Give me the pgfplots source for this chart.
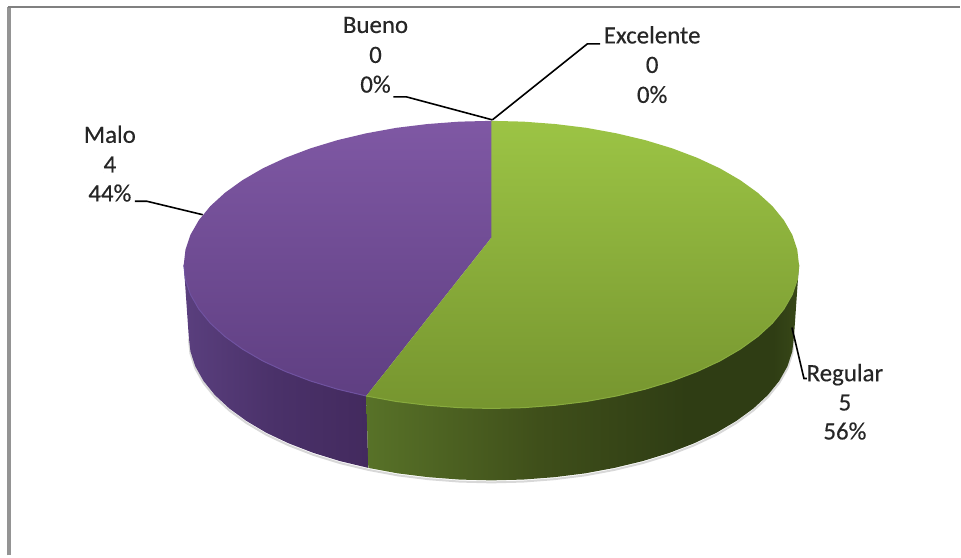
\documentclass[border=0pt]{standalone}
\usepackage{pgfplots}
\pgfplotsset{compat=1.18}
\usepackage{fontspec}
\setmainfont{Carlito}
\newfontface\labfont{Carlito}[FakeBold=0.35]
\definecolor{gwall1}{HTML}{587228}
\definecolor{gwall2}{HTML}{3F4F1A}
\definecolor{gwall3}{HTML}{2F3D14}
\definecolor{gwall4}{HTML}{384818}
\definecolor{pwall1}{HTML}{5A3F7E}
\definecolor{pwall2}{HTML}{4A3169}
\definecolor{pwall3}{HTML}{432A5E}
\definecolor{purptop}{HTML}{7F58A4}
\definecolor{purpbot}{HTML}{5F3F82}
\definecolor{greentop}{HTML}{9CC445}
\definecolor{greenbot}{HTML}{76952F}
\definecolor{purprim}{HTML}{6F52A0}
\definecolor{greenrim}{HTML}{88AB3E}
\pgfdeclarehorizontalshading{greenwall}{100bp}{color(0bp)=(gwall1); color(25bp)=(gwall1); color(45bp)=(gwall2); color(62bp)=(gwall3); color(72bp)=(gwall3); color(75bp)=(gwall4); color(100bp)=(gwall4)}
\pgfdeclarehorizontalshading{purplewall}{100bp}{color(0bp)=(pwall1); color(25bp)=(pwall1); color(50bp)=(pwall2); color(75bp)=(pwall3); color(100bp)=(pwall3)}
\newcommand\lab[1]{\labfont\fontsize{25}{25}\selectfont #1}
\tikzset{lbl/.style={text=black!85, anchor=base, inner sep=0pt}}
\begin{document}
\begin{tikzpicture}
\begin{axis}[
    width=961bp, height=556bp, scale only axis,
    xmin=0, xmax=961, ymin=0, ymax=556, y dir=reverse,
    hide axis, clip=false,
]
% keeps the page at the full size of the axis
\addplot[draw=none] coordinates {(0,0) (961,556)};

% frame
\addplot[draw=black!42, line width=4bp] coordinates {(9.5,556) (9.5,7)};
\addplot[draw=black!50, line width=2.5bp] coordinates {(8,7) (961,7)};

% soft shadow below the wall
\addplot[draw=black!30, line width=2bp, opacity=0.5] coordinates {
    (189,339) (190.7,354) (195.6,369) (203.8,383.5) (215.2,397.6) (229.6,411) (246.9,423.6) (266.8,435.4) (289.3,446) (313.9,455.5) (340.5,463.7) (368.8,470.5) (398.4,476) (429,479.8) (460.3,482.2) (492,483)
    (523.7,482.2) (555,479.8) (585.6,476) (615.2,470.5) (643.5,463.7) (670.1,455.5) (694.7,446) (717.2,435.4) (737.1,423.6) (754.4,411) (768.8,397.6) (780.2,383.5) (788.4,369) (793.3,354) (795,339)};

% purple wall
\addplot[draw=none, shade, shading=purplewall] coordinates {
    (184,265) (185.7,280) (190.7,294.9) (199.1,309.5) (210.6,323.6) (225.3,337) (242.8,349.6) (263.1,361.4) (285.9,372) (311,381.5) (338,389.7) (366.7,396.5)
    (368.8,468.5) (340.5,461.7) (313.9,453.5) (289.3,444) (266.8,433.4) (246.9,421.6) (229.6,409) (215.2,395.6) (203.8,381.5) (195.6,366.9) (190.7,352) (189,337)} -- cycle;

% green wall
\addplot[draw=none, shade, shading=greenwall] coordinates {
    (366.7,396.5) (396.8,402) (428,405.8) (459.8,408.2) (492,409) (524.2,408.2) (556,405.8) (587.2,402) (617.3,396.5) (646,389.7) (673,381.5) (698.1,372) (720.9,361.4) (741.2,349.6) (758.7,337) (773.4,323.6) (784.9,309.5) (793.3,294.9) (798.3,280) (800,265)
    (795,337) (793.3,352) (788.4,366.9) (780.2,381.5) (768.8,395.6) (754.4,409) (737.1,421.6) (717.2,433.4) (694.7,444) (670.1,453.5) (643.5,461.7) (615.2,468.5) (585.6,474) (555,477.8) (523.7,480.2) (492,481) (460.3,480.2) (429,477.8) (398.4,474) (368.8,468.5)} -- cycle;

% Malo 44%
\addplot[draw=none, shade, top color=purptop, bottom color=purpbot] coordinates {
    (492,238) (492,121) (459.8,121.8) (428,124.2) (396.8,128) (366.7,133.5) (338,140.3) (311,148.5) (285.9,158) (263.1,168.6) (242.8,180.4) (225.3,193) (210.6,206.4) (199.1,220.5) (190.7,235.1) (185.7,250) (184,265)
    (185.7,280) (190.7,294.9) (199.1,309.5) (210.6,323.6) (225.3,337) (242.8,349.6) (263.1,361.4) (285.9,372) (311,381.5) (338,389.7) (366.7,396.5)} -- cycle;

% Regular 56%
\addplot[draw=none, shade, top color=greentop, bottom color=greenbot] coordinates {
    (492,238) (492,121) (524.2,121.8) (556,124.2) (587.2,128) (617.3,133.5) (646,140.3) (673,148.5) (698.1,158) (720.9,168.6) (741.2,180.4) (758.7,193) (773.4,206.4) (784.9,220.5) (793.3,235.1) (798.3,250) (800,265)
    (798.3,280) (793.3,294.9) (784.9,309.5) (773.4,323.6) (758.7,337) (741.2,349.6) (720.9,361.4) (698.1,372) (673,381.5) (646,389.7) (617.3,396.5) (587.2,402) (556,405.8) (524.2,408.2) (492,409) (459.8,408.2) (428,405.8) (396.8,402) (366.7,396.5)} -- cycle;

% light rim on the front edge
\addplot[draw=purprim, line width=1bp] coordinates {
    (184,265) (185.7,280) (190.7,294.9) (199.1,309.5) (210.6,323.6) (225.3,337) (242.8,349.6) (263.1,361.4) (285.9,372) (311,381.5) (338,389.7) (366.7,396.5)};
\addplot[draw=greenrim, line width=1bp] coordinates {
    (366.7,396.5) (396.8,402) (428,405.8) (459.8,408.2) (492,409) (524.2,408.2) (556,405.8) (587.2,402) (617.3,396.5) (646,389.7) (673,381.5) (698.1,372) (720.9,361.4) (741.2,349.6) (758.7,337) (773.4,323.6) (784.9,309.5) (793.3,294.9) (798.3,280) (800,265)};

% leader lines
\addplot[draw=black, line width=1.6bp] coordinates {(394,97) (407,97) (493,120)};
\addplot[draw=black, line width=1.6bp] coordinates {(493,120) (588,44) (601,44)};
\addplot[draw=black, line width=1.6bp] coordinates {(135,201.5) (147,201.5) (203,215)};
\addplot[draw=black, line width=1.6bp] coordinates {(793,328) (805,379) (808,379)};

% labels
\node[lbl] at (axis cs:376,33) {\lab{Bueno}};
\node[lbl] at (axis cs:376,63) {\lab{0}};
\node[lbl] at (axis cs:376,92.7) {\lab{0\%}};
\node[lbl] at (axis cs:653,43.5) {\lab{Excelente}};
\node[lbl] at (axis cs:653,73) {\lab{0}};
\node[lbl] at (axis cs:653,103) {\lab{0\%}};
\node[lbl] at (axis cs:110,143) {\lab{Malo}};
\node[lbl] at (axis cs:110,172.7) {\lab{4}};
\node[lbl] at (axis cs:110,201.7) {\lab{44\%}};
\node[lbl] at (axis cs:846,381.7) {\lab{Regular}};
\node[lbl] at (axis cs:846,411) {\lab{5}};
\node[lbl] at (axis cs:846,440) {\lab{56\%}};
\end{axis}
\end{tikzpicture}
\end{document}
